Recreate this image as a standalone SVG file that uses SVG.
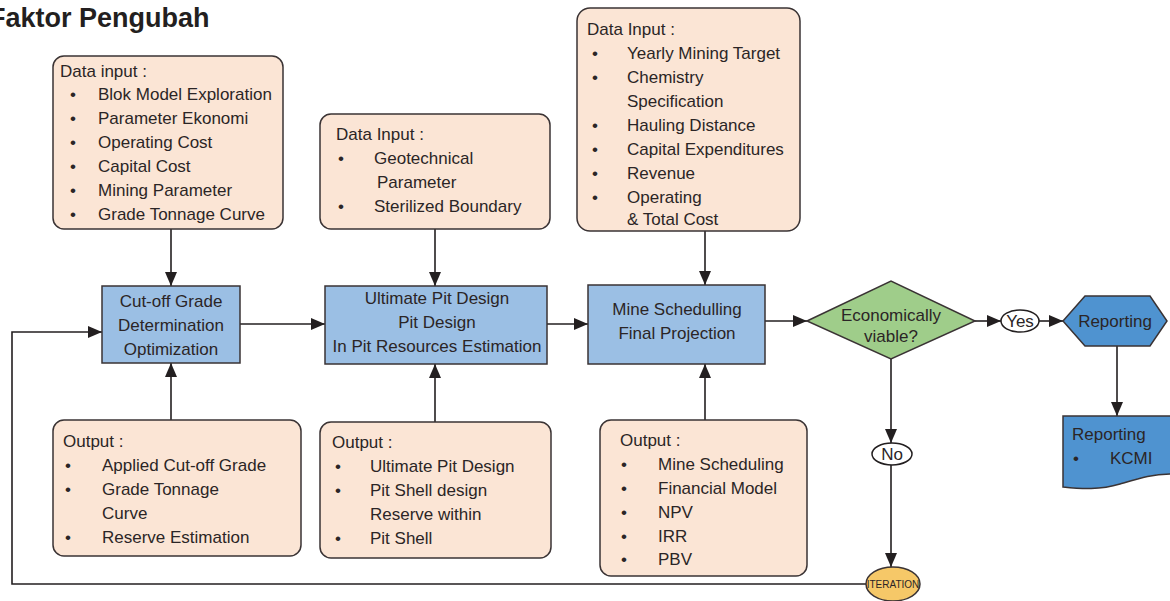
<svg xmlns="http://www.w3.org/2000/svg" width="1170" height="601" viewBox="0 0 1170 601">
<defs>
<marker id="ah" viewBox="0 0 14 12" refX="14" refY="6" markerWidth="14" markerHeight="12" markerUnits="userSpaceOnUse" orient="auto">
<path d="M0,0 L14,6 L0,12 Z" fill="#231f20"/>
</marker>
<style>
text{font-family:"Liberation Sans",Arial,sans-serif;font-size:17px;fill:#2b2526}
.peach{fill:#fbe5d5;stroke:#3a3334;stroke-width:1.5}
.blue{fill:#9bbfe4;stroke:#3a3334;stroke-width:1.5}
.c{text-anchor:middle}
.con line,.con path{stroke:#231f20;stroke-width:1.6;fill:none}
.arr{marker-end:url(#ah)}
</style>
</defs>
<rect width="1170" height="601" fill="#ffffff"/>
<text x="-11" y="27" style="font-size:27px;font-weight:bold;fill:#231f20">Faktor Pengubah</text>

<g class="con">
<line class="arr" x1="171" y1="229" x2="171" y2="286"/>
<line class="arr" x1="171" y1="420" x2="171" y2="363"/>
<line class="arr" x1="240" y1="324" x2="325" y2="324"/>
<line class="arr" x1="435" y1="229" x2="435" y2="286"/>
<line class="arr" x1="435" y1="422" x2="435" y2="364"/>
<line class="arr" x1="547" y1="324" x2="588" y2="324"/>
<line class="arr" x1="705" y1="231" x2="705" y2="285"/>
<line class="arr" x1="705" y1="420" x2="705" y2="364"/>
<line class="arr" x1="765" y1="321" x2="807" y2="321"/>
<line class="arr" x1="975" y1="321" x2="1001" y2="321"/>
<line class="arr" x1="1039" y1="321" x2="1063" y2="321"/>
<line class="arr" x1="891" y1="359" x2="891" y2="443"/>
<line class="arr" x1="891" y1="465" x2="891" y2="567"/>
<path class="arr" d="M866,584 H12 V332 H102"/>
<line class="arr" x1="1117" y1="346" x2="1117" y2="416"/>
</g>

<g id="input1">
<rect class="peach" x="53" y="56" width="230" height="173" rx="11"/>
<text x="60" y="77">Data input :</text>
<text x="70" y="100">•</text><text x="98" y="100">Blok Model Exploration</text>
<text x="70" y="124">•</text><text x="98" y="124">Parameter Ekonomi</text>
<text x="70" y="148">•</text><text x="98" y="148">Operating Cost</text>
<text x="70" y="172">•</text><text x="98" y="172">Capital Cost</text>
<text x="70" y="196">•</text><text x="98" y="196">Mining Parameter</text>
<text x="70" y="220">•</text><text x="98" y="220">Grade Tonnage Curve</text>
</g>

<g id="cutoff">
<rect class="blue" x="102" y="286" width="138" height="77"/>
<text class="c" x="171" y="307">Cut-off Grade</text>
<text class="c" x="171" y="331">Determination</text>
<text class="c" x="171" y="355">Optimization</text>
</g>

<g id="input2">
<rect class="peach" x="320" y="114" width="230" height="115" rx="11"/>
<text x="336" y="140">Data Input :</text>
<text x="338" y="164">•</text><text x="374" y="164">Geotechnical</text>
<text x="377" y="188">Parameter</text>
<text x="338" y="212">•</text><text x="374" y="212">Sterilized Boundary</text>
</g>

<g id="ultimate">
<rect class="blue" x="325" y="286" width="222" height="78"/>
<text class="c" x="437" y="304">Ultimate Pit Design</text>
<text class="c" x="437" y="328">Pit Design</text>
<text class="c" x="437" y="352">In Pit Resources Estimation</text>
</g>

<g id="input3">
<rect class="peach" x="577" y="8" width="223" height="223" rx="13"/>
<text x="587" y="35">Data Input :</text>
<text x="592" y="59">•</text><text x="627" y="59">Yearly Mining Target</text>
<text x="592" y="83">•</text><text x="627" y="83">Chemistry</text>
<text x="627" y="107">Specification</text>
<text x="592" y="131">•</text><text x="627" y="131">Hauling Distance</text>
<text x="592" y="155">•</text><text x="627" y="155">Capital Expenditures</text>
<text x="592" y="179">•</text><text x="627" y="179">Revenue</text>
<text x="592" y="203">•</text><text x="627" y="203">Operating</text>
<text x="627" y="225">&amp; Total Cost</text>
</g>

<g id="mine">
<rect class="blue" x="588" y="285" width="177" height="79"/>
<text class="c" x="677" y="315">Mine Schedulling</text>
<text class="c" x="677" y="339">Final Projection</text>
</g>

<g id="decision">
<polygon points="807,321 891,281 975,321 891,359" fill="#9fcd8a" stroke="#3a3334" stroke-width="1.5"/>
<text class="c" x="891" y="321">Economically</text>
<text class="c" x="891" y="342">viable?</text>
</g>

<g id="yes">
<ellipse cx="1020" cy="321" rx="19" ry="11" fill="#ffffff" stroke="#231f20" stroke-width="1.5"/>
<text class="c" x="1020" y="327">Yes</text>
</g>

<g id="reporting">
<polygon points="1063,321 1085,296 1150,296 1167,321 1150,346 1085,346" fill="#4f93d0" stroke="#3a3334" stroke-width="1.5"/>
<text class="c" x="1115" y="327">Reporting</text>
</g>

<g id="reportdoc">
<path d="M1063,416 H1172 V474 C1152,474 1140,478 1120,484 C1100,490 1082,489 1063,487 Z" fill="#4f93d0" stroke="#3a3334" stroke-width="1.5"/>
<text x="1072" y="440">Reporting</text>
<text x="1073" y="464">•</text><text x="1110" y="464">KCMI</text>
</g>

<g id="no">
<ellipse cx="892" cy="454" rx="20" ry="11" fill="#ffffff" stroke="#231f20" stroke-width="1.5"/>
<text class="c" x="892" y="460">No</text>
</g>

<g id="iteration">
<ellipse cx="893" cy="584" rx="27" ry="17" fill="#f6c868" stroke="#3a3334" stroke-width="1.5"/>
<text class="c" x="893" y="588" style="font-size:10px">ITERATION</text>
</g>

<g id="output1">
<rect class="peach" x="53" y="420" width="248" height="136" rx="11"/>
<text x="63" y="447">Output :</text>
<text x="65" y="471">•</text><text x="102" y="471">Applied Cut-off Grade</text>
<text x="65" y="495">•</text><text x="102" y="495">Grade Tonnage</text>
<text x="102" y="519">Curve</text>
<text x="65" y="543">•</text><text x="102" y="543">Reserve Estimation</text>
</g>

<g id="output2">
<rect class="peach" x="320" y="422" width="231" height="136" rx="11"/>
<text x="332" y="448">Output :</text>
<text x="335" y="472">•</text><text x="370" y="472">Ultimate Pit Design</text>
<text x="335" y="496">•</text><text x="370" y="496">Pit Shell design</text>
<text x="370" y="520">Reserve within</text>
<text x="335" y="544">•</text><text x="370" y="544">Pit Shell</text>
</g>

<g id="output3">
<rect class="peach" x="600" y="420" width="207" height="156" rx="11"/>
<text x="620" y="446">Output :</text>
<text x="621" y="470">•</text><text x="658" y="470">Mine Scheduling</text>
<text x="621" y="494">•</text><text x="658" y="494">Financial Model</text>
<text x="621" y="518">•</text><text x="658" y="518">NPV</text>
<text x="621" y="542">•</text><text x="658" y="542">IRR</text>
<text x="621" y="565">•</text><text x="658" y="565">PBV</text>
</g>
</svg>
